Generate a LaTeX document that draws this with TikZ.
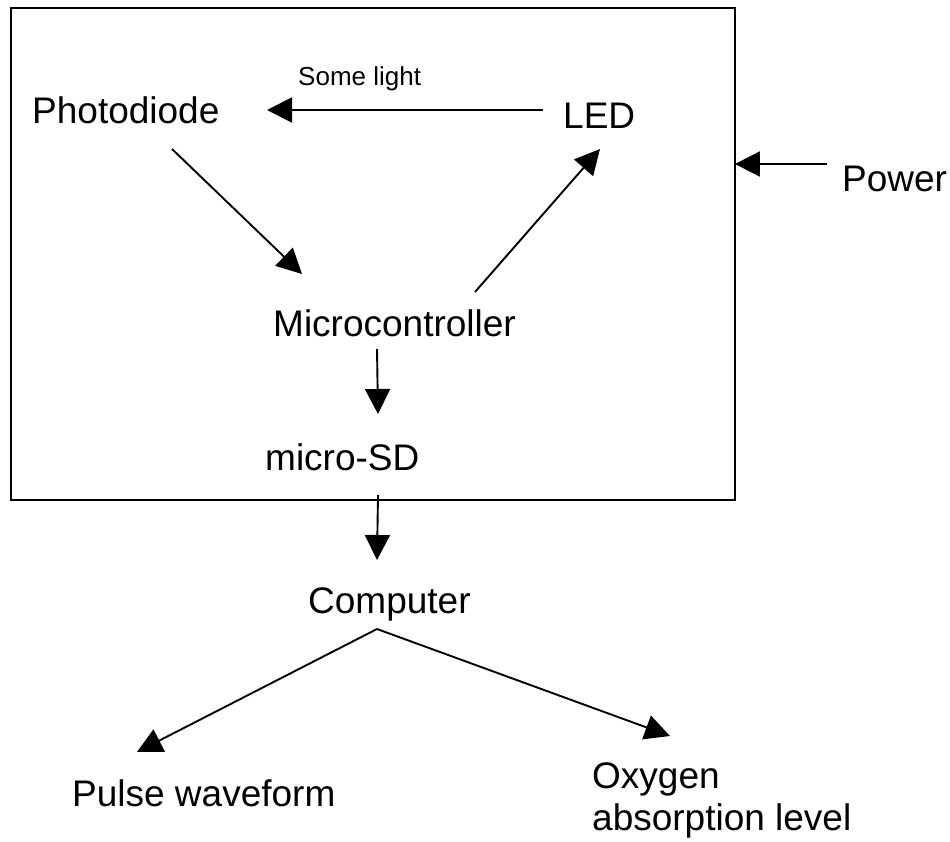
\documentclass[tikz,border=0pt]{standalone}
\usepackage{fontspec}
\setmainfont{Liberation Sans}
\usetikzlibrary{arrows.meta}
\tikzset{
  lbl/.style={inner sep=0pt, anchor=base west, font=\fontsize{37}{42}\selectfont},
  smalllbl/.style={inner sep=0pt, anchor=base west, font=\fontsize{26}{30}\selectfont},
  arr/.style={line width=1.9pt, -{Triangle[length=25pt,width=25pt]}},
  frame/.style={draw, line width=1.9pt, inner sep=0pt, anchor=north west}
}
\begin{document}
\begin{tikzpicture}[x=1pt, y=-1pt]
\useasboundingbox (0,0) rectangle (950,842);
\node[frame, minimum width=724pt, minimum height=492pt] (box) at (10,7) {};
\node[lbl] (pd) at (32,124) {Photodiode};
\node[lbl] (led) at (563,129) {LED};
\node[smalllbl] (light) at (298,86) {Some light};
\node[lbl] (power) at (842,192) {Power};
\node[lbl] (mc) at (273,336) {Microcontroller};
\node[lbl] (sd) at (265,470) {micro-SD};
\node[lbl] (comp) at (308,613) {Computer};
\node[lbl] (pulse) at (72,806) {Pulse waveform};
\node[inner sep=0pt, anchor=north west, align=left, font=\fontsize{37}{42}\selectfont] (oxy) at (592,762) {Oxygen\\absorption level};
% connectors
\draw[arr] ([shift={(-20,-19)}]led.base west) -- ([shift={(235,-14)}]pd.base west);
\draw[arr] ([shift={(140,25)}]pd.base west) -- ([shift={(29,-62)}]mc.base west);
\draw[arr] ([shift={(202,-44)}]mc.base west) -- ([shift={(37,20)}]led.base west);
\draw[arr] ([shift={(104,13)}]mc.base west) -- ([shift={(113,-56)}]sd.base west);
\draw[arr] ([shift={(-15,-28)}]power.base west) -- ([shift={(-1,157)}]box.north east);
\draw[arr] ([shift={(113,25)}]sd.base west) -- ([shift={(69,-53)}]comp.base west);
\draw[arr] ([shift={(69,16)}]comp.base west) -- ([shift={(65,-54)}]pulse.base west);
\draw[arr] ([shift={(69,16)}]comp.base west) -- ([shift={(78,-26)}]oxy.north west);
\end{tikzpicture}
\end{document}
